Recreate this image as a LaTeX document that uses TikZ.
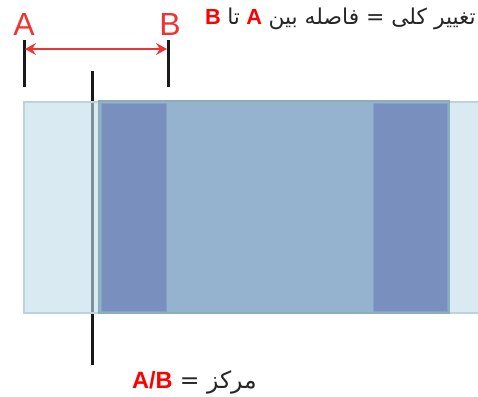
\documentclass[tikz,border=0pt]{standalone}
\usepackage{fontspec}
\setmainfont{Liberation Sans}
\newfontfamily\arabicfont[Script=Arabic]{DejaVu Sans}
\TeXXeTstate=1
\usetikzlibrary{arrows.meta}
\definecolor{lightfill}{HTML}{DAEAF2}
\definecolor{lightedge}{HTML}{BCD3DE}
\definecolor{midfill}{HTML}{95B3CF}
\definecolor{midedge}{HTML}{8AAFBA}
\definecolor{darkfill}{HTML}{7990BF}
\definecolor{darkedge}{HTML}{869FC6}
\definecolor{arrowred}{HTML}{EE3333}
\definecolor{inline}{HTML}{7F8E99}
\tikzset{
  tick/.style={line width=3pt, color=black!90},
  letter/.style={text=arrowred, font=\fontsize{32}{34}\selectfont, inner sep=0pt},
  caption/.style={inner sep=0pt, text=black!85, anchor=base east},
  redword/.style={inner sep=0pt, text=red, anchor=base east},
  topsize/.style={font=\fontsize{21.8}{26}\selectfont},
  botsize/.style={font=\fontsize{23.5}{28}\selectfont},
}
\begin{document}
\begin{tikzpicture}[x=1pt,y=-1pt]
\useasboundingbox (0,0) rectangle (478,396);
% ticks
\draw[tick] (24,40) coordinate (a1) -- (24,87) coordinate (a2);
\draw[tick] (168,40) coordinate (b1) -- (168,87) coordinate (b2);
\draw[tick] (92,71) coordinate (c1) -- (92,365) coordinate (c2);
% rectangles
\draw[lightedge, fill=lightfill, line width=2pt] (24,102) rectangle (480,313);
\draw[inline, line width=3pt] (92,103) -- (92,312);
\draw[midedge, fill=midfill, line width=2pt] (99,101) rectangle (449,313);
\draw[darkedge, fill=darkfill, line width=1pt] (101.5,103) rectangle (166.5,311.5);
\draw[darkedge, fill=darkfill, line width=1pt] (373,103) rectangle (447,311.5);
% arrow
\coordinate (pa) at (25,49);
\coordinate (pb) at (167,49);
\draw[arrowred, line width=2.2pt, {Stealth[length=11pt,width=12pt,inset=4pt]}-{Stealth[length=11pt,width=12pt,inset=4pt]}] (pa) -- (pb);
% labels
\node[letter] (A) at (24,24) {A};
\node[letter] (B) at (170,24) {B};
% top caption, right to left
\node[caption, topsize] (t1) at (476,25) {\arabicfont\beginR تغییر کلی = فاصله بین\endR};
\node[redword, topsize] (t2) at ([xshift=-6pt]t1.base west) {\bfseries A};
\node[caption, topsize] (t3) at ([xshift=-6pt]t2.base west) {\arabicfont\beginR تا\endR};
\node[redword, topsize] (t4) at ([xshift=-6pt]t3.base west) {\bfseries B};
% bottom caption
\node[caption, botsize] (m1) at (257,388) {\arabicfont\beginR مرکز =\endR};
\node[redword, botsize] (m2) at ([xshift=-7pt]m1.base west) {\bfseries A/B};
\end{tikzpicture}
\end{document}
